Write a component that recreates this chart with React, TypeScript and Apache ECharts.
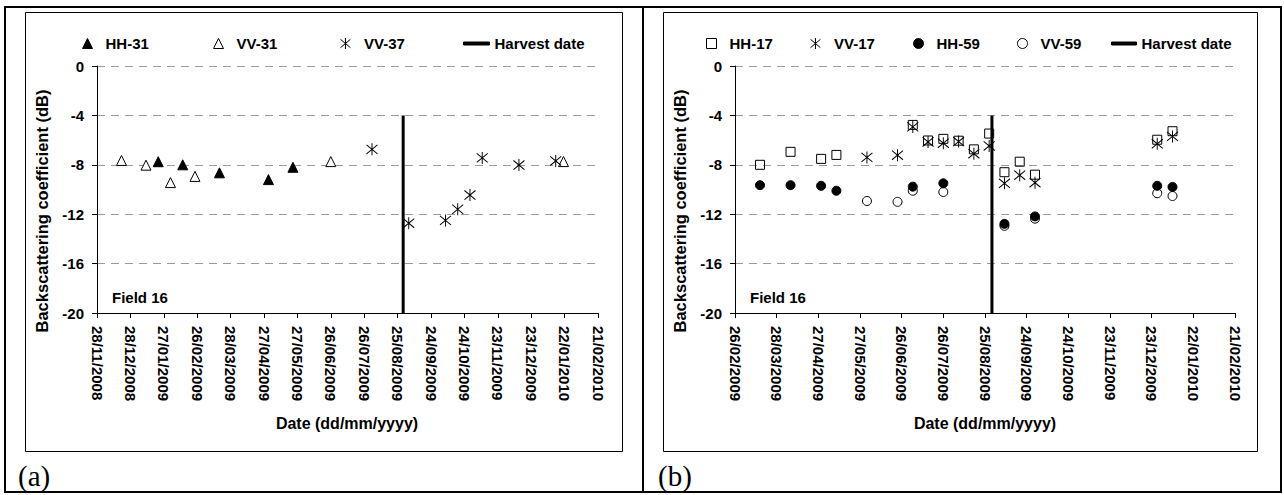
import React, { useEffect, useRef } from 'react';
import * as echarts from 'echarts';

// ---- axis settings ----
const axisStartA = '28/11/2008';
const axisStartB = '26/02/2009';
const axisEnd = '21/02/2010';
const dayStep = 30;
const yMin = -20;
const yMax = 0;
const yStep = 4;
const harvestDate = '30/08/2009';
const harvestTop = -4;

// ---- panel (a) data ----
const hh31Dates = ['22/01/2009', '13/02/2009', '18/03/2009', '01/05/2009', '23/05/2009'];
const hh31Values = [-7.75, -8.0, -8.65, -9.2, -8.2];
const vv31Dates = ['20/12/2008', '11/01/2009', '02/02/2009', '24/02/2009', '26/06/2009', '21/01/2010'];
const vv31Values = [-7.65, -8.03, -9.44, -8.94, -7.74, -7.74];
const vv37Dates = ['02/08/2009', '04/09/2009', '07/10/2009', '18/10/2009', '29/10/2009', '09/11/2009', '12/12/2009', '14/01/2010'];
const vv37Values = [-6.75, -12.73, -12.5, -11.6, -10.45, -7.44, -8.02, -7.69];

// ---- panel (b) data ----
const hh17Dates = ['16/03/2009', '07/04/2009', '29/04/2009', '10/05/2009', '04/07/2009', '15/07/2009', '26/07/2009', '06/08/2009', '17/08/2009', '28/08/2009', '08/09/2009', '19/09/2009', '30/09/2009', '27/12/2009', '07/01/2010'];
const hh17Values = [-8.0, -6.95, -7.52, -7.2, -4.77, -6.03, -5.9, -6.05, -6.75, -5.47, -8.6, -7.75, -8.8, -5.97, -5.28];
const vv17Dates = ['01/06/2009', '23/06/2009', '04/07/2009', '15/07/2009', '26/07/2009', '06/08/2009', '17/08/2009', '28/08/2009', '08/09/2009', '19/09/2009', '30/09/2009', '27/12/2009', '07/01/2010'];
const vv17Values = [-7.4, -7.22, -4.93, -6.15, -6.25, -6.12, -7.1, -6.47, -9.5, -8.84, -9.45, -6.3, -5.7];
const hh59Dates = ['16/03/2009', '07/04/2009', '29/04/2009', '10/05/2009', '04/07/2009', '26/07/2009', '08/09/2009', '30/09/2009', '27/12/2009', '07/01/2010'];
const hh59Values = [-9.65, -9.65, -9.7, -10.1, -9.77, -9.5, -12.78, -12.18, -9.7, -9.79];
const vv59Dates = ['01/06/2009', '23/06/2009', '04/07/2009', '26/07/2009', '08/09/2009', '30/09/2009', '27/12/2009', '07/01/2010'];
const vv59Values = [-10.93, -11.0, -10.1, -10.2, -12.94, -12.36, -10.3, -10.53];

const FONT = '"Liberation Sans", Arial, sans-serif';
const STAR = 'path://M5,0L5,10M0.5,1.2L9.5,8.8M0.5,8.8L9.5,1.2';

const toSerial = (s: string) => {
  const [d, m, y] = s.split('/').map(Number);
  return Math.round(Date.UTC(y, m - 1, d) / 86400000) + 25569;
};
const fromSerial = (n: number) => {
  const dt = new Date((Math.round(n) - 25569) * 86400000);
  const p = (v: number) => (v < 10 ? '0' + v : '' + v);
  return p(dt.getUTCDate()) + '/' + p(dt.getUTCMonth() + 1) + '/' + dt.getUTCFullYear();
};
const pts = (dates: string[], vals: number[]) => dates.map((d, i) => [toSerial(d), vals[i]]);

function scatter(name: string, dates: string[], vals: number[], symbol: string, fill: string, idx: number, size: number | number[]) {
  return {
    type: 'scatter',
    name,
    xAxisIndex: idx,
    yAxisIndex: idx,
    data: pts(dates, vals),
    symbol,
    symbolSize: size,
    itemStyle: { color: fill, borderColor: '#000', borderWidth: 1, opacity: 1 },
    emphasis: { disabled: true },
    silent: true,
  };
}

function harvest(idx: number) {
  const h = toSerial(harvestDate);
  return {
    type: 'line',
    name: 'Harvest date',
    xAxisIndex: idx,
    yAxisIndex: idx,
    data: [[h, harvestTop], [h, yMin]],
    symbol: 'none',
    lineStyle: { color: '#000', width: 3 },
    itemStyle: { color: '#000' },
    silent: true,
  };
}

function xAxis(idx: number, start: string) {
  return {
    type: 'value',
    gridIndex: idx,
    min: toSerial(start),
    max: toSerial(axisEnd),
    interval: dayStep,
    axisLine: { show: true, onZero: false, lineStyle: { color: '#000', width: 1 } },
    axisTick: { show: true, length: 5, lineStyle: { color: '#000' } },
    splitLine: { show: false },
    axisLabel: {
      rotate: -90,
      margin: 13,
      fontSize: 15,
      fontWeight: 'bold',
      color: '#000',
      fontFamily: FONT,
      formatter: (v: number) => fromSerial(v),
    },
  };
}

function yAxis(idx: number) {
  return {
    type: 'value',
    gridIndex: idx,
    min: yMin,
    max: yMax,
    interval: yStep,
    axisLine: { show: true, onZero: false, lineStyle: { color: '#000', width: 1 } },
    axisTick: { show: true, length: 5, lineStyle: { color: '#000' } },
    splitLine: { show: true, lineStyle: { color: '#9a9a9a', width: 1, type: [8, 6] } },
    axisLabel: { margin: 13, fontSize: 15, fontWeight: 'bold', color: '#000', fontFamily: FONT },
  };
}

function leg(name: string, left: number, icon: string, w: number, h: number, fill: string, top: number, pad: number) {
  return {
    data: [{ name, icon }],
    left,
    top,
    padding: 0,
    itemWidth: w,
    itemHeight: h,
    selectedMode: false,
    itemStyle: { color: fill, borderColor: '#000', borderWidth: 1 },
    textStyle: { fontSize: 15, fontWeight: 'bold', color: '#000', fontFamily: FONT, padding: [0, 0, 0, pad] },
  };
}

const txt = (text: string, x: number, y: number, font: string, extra: any = {}) => ({
  type: 'text',
  x,
  y,
  silent: true,
  ...extra,
  style: { text, font, fill: '#000', align: 'center', verticalAlign: 'middle', ...(extra.style || {}) },
});

export default function App() {
  const ref = useRef<HTMLDivElement>(null);
  useEffect(() => {
    if (!ref.current) return;
    const chart = echarts.init(ref.current, undefined, { renderer: 'svg' });
    const legTop = 36;
    chart.setOption({
      animation: false,
      backgroundColor: '#fff',
      grid: [
        { left: 97, top: 66, width: 501, height: 247 },
        { left: 735, top: 66, width: 500, height: 247 },
      ],
      xAxis: [xAxis(0, axisStartA), xAxis(1, axisStartB)],
      yAxis: [yAxis(0), yAxis(1)],
      legend: [
        leg('HH-31', 82, 'triangle', 10, 10, '#000', legTop, 8),
        leg('VV-31', 213, 'triangle', 10, 10, '#fff', legTop, 8),
        leg('VV-37', 340, STAR, 11, 11, 'rgba(0,0,0,0)', legTop, 8),
        leg('Harvest date', 463, 'rect', 26, 3, '#000', legTop, 0),
        leg('HH-17', 706, 'rect', 10, 10, '#fff', legTop, 8),
        leg('VV-17', 810, STAR, 11, 11, 'rgba(0,0,0,0)', legTop, 8),
        leg('HH-59', 913, 'circle', 10, 10, '#000', legTop, 8),
        leg('VV-59', 1017, 'circle', 10, 10, '#fff', legTop, 8),
        leg('Harvest date', 1111, 'rect', 25, 3, '#000', legTop, 0),
      ],
      series: [
        harvest(0),
        scatter('VV-31', vv31Dates, vv31Values, 'triangle', '#fff', 0, 10),
        scatter('HH-31', hh31Dates, hh31Values, 'triangle', '#000', 0, 10),
        scatter('VV-37', vv37Dates, vv37Values, STAR, 'rgba(0,0,0,0)', 0, [11, 12]),
        harvest(1),
        scatter('HH-17', hh17Dates, hh17Values, 'rect', 'rgba(255,255,255,0)', 1, 9),
        scatter('VV-17', vv17Dates, vv17Values, STAR, 'rgba(0,0,0,0)', 1, [11, 12]),
        scatter('VV-59', vv59Dates, vv59Values, 'circle', '#fff', 1, 9),
        scatter('HH-59', hh59Dates, hh59Values, 'circle', '#000', 1, 9),
      ],
      graphic: [
        { type: 'rect', silent: true, shape: { x: 5, y: 7, width: 1276, height: 485 }, style: { fill: 'none', stroke: '#000', lineWidth: 2 } },
        { type: 'line', silent: true, shape: { x1: 643, y1: 7, x2: 643, y2: 492 }, style: { stroke: '#000', lineWidth: 2 } },
        { type: 'rect', silent: true, shape: { x: 25.5, y: 12.5, width: 597, height: 439 }, style: { fill: 'none', stroke: '#000', lineWidth: 1 } },
        { type: 'rect', silent: true, shape: { x: 663.5, y: 12.5, width: 594, height: 439 }, style: { fill: 'none', stroke: '#000', lineWidth: 1 } },
        txt('Backscattering coefficient (dB)', 42, 211, 'bold 16.5px ' + FONT, { rotation: Math.PI / 2 }),
        txt('Backscattering coefficient (dB)', 680, 211, 'bold 16.5px ' + FONT, { rotation: Math.PI / 2 }),
        txt('Date (dd/mm/yyyy)', 347, 423, 'bold 16px ' + FONT),
        txt('Date (dd/mm/yyyy)', 985, 423, 'bold 16px ' + FONT),
        txt('Field 16', 112, 297, 'bold 15px ' + FONT, { style: { align: 'left' } }),
        txt('Field 16', 750, 297, 'bold 15px ' + FONT, { style: { align: 'left' } }),
        txt('(a)', 18, 476, '29px "Liberation Serif", "Times New Roman", serif', { style: { align: 'left' } }),
        txt('(b)', 658, 476, '29px "Liberation Serif", "Times New Roman", serif', { style: { align: 'left' } }),
      ],
    });
    return () => chart.dispose();
  }, []);
  return <div ref={ref} style={{ position: 'fixed', left: 0, top: 0, width: 1284, height: 495, background: '#fff' }} />;
}
